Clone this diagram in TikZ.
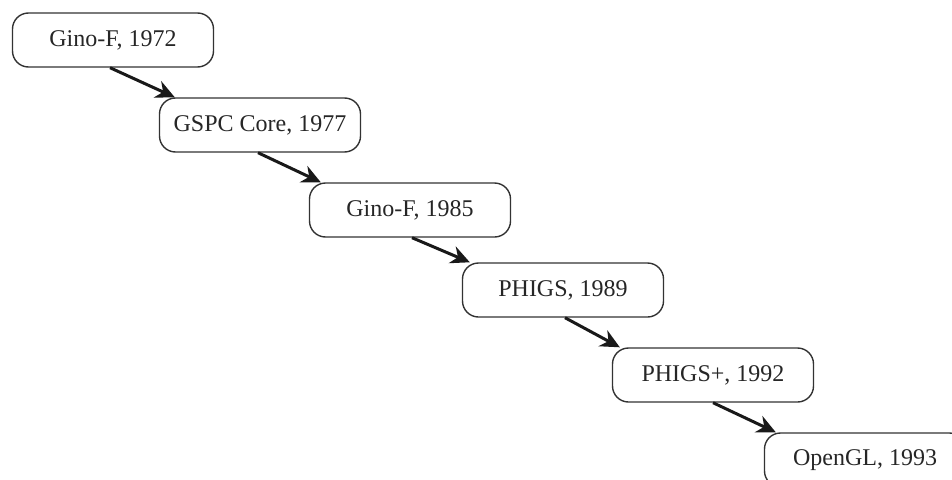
\documentclass[tikz,border=0pt]{standalone}
\usepackage{fontspec}
\setmainfont{Liberation Serif}
\usetikzlibrary{arrows.meta}
\begin{document}
\begin{tikzpicture}[x=1pt,y=-1pt,
  box/.style={draw=black!80, line width=1.4pt, rounded corners=16pt,
    minimum width=201pt, minimum height=54pt, inner sep=0pt,
    font=\fontsize{24}{28}\selectfont, text=black!85},
  link/.style={line width=3pt, black!90, -{Stealth[length=19pt,width=18pt]}}]
\useasboundingbox (0,0) rectangle (952,479);
\node[box] (a) at (113,40) {Gino-F, 1972};
\node[box] (b) at (260,125) {GSPC Core, 1977};
\node[box] (c) at (410,210) {Gino-F, 1985};
\node[box] (d) at (563,290) {PHIGS, 1989};
\node[box] (e) at (713,375) {PHIGS+, 1992};
\node[box] (f) at (865,460) {OpenGL, 1993};
\draw[link] ([xshift=-3pt]a.south) -- ([xshift=16pt]b.north west);
\draw[link] ([xshift=-2pt]b.south) -- ([xshift=12pt]c.north west);
\draw[link] ([xshift=2pt]c.south) -- ([xshift=8pt]d.north west);
\draw[link] ([xshift=2pt]d.south) -- ([xshift=8pt]e.north west);
\draw[link] (e.south) -- ([xshift=12pt]f.north west);
\end{tikzpicture}
\end{document}
